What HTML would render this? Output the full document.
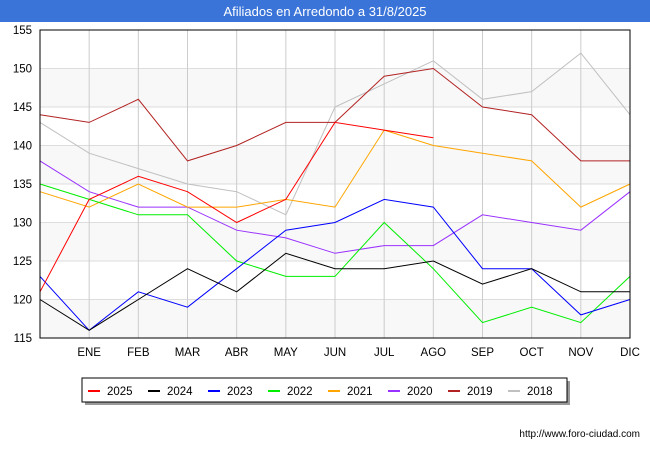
<!DOCTYPE html>
<html><head><meta charset="utf-8"><style>
body{margin:0;background:#fff;font-family:"Liberation Sans",sans-serif}
#wrap{position:relative;width:650px;height:450px;overflow:hidden}
</style></head><body>
<div id="wrap">
<svg id="svg" width="650" height="450" xmlns="http://www.w3.org/2000/svg">
<rect x="0" y="0" width="650" height="22" fill="#3a74d8"/>
<text x="325" y="16" text-anchor="middle" fill="#fff" font-size="13">Afiliados en Arredondo a 31/8/2025</text>
<g id="grid"></g><g id="series"></g><g id="axes"></g>
<rect x="85" y="381" width="485" height="24" fill="#999"/>
<rect x="82" y="378" width="485" height="24" fill="#fff" stroke="#000" stroke-width="1"/>
<g id="legend"></g>
<text x="640" y="437" text-anchor="end" font-size="10" fill="#000">http://www.foro-ciudad.com</text>
</svg></div>
<script>
const months=["","ENE","FEB","MAR","ABR","MAY","JUN","JUL","AGO","SEP","OCT","NOV","DIC"];
const yTicks=[115,120,125,130,135,140,145,150,155];
const years=["2025","2024","2023","2022","2021","2020","2019","2018"];
const colors=["#ff0000","#000000","#0000ff","#00ee00","#ffa500","#9a32ff","#b22222","#c0c0c0"];
const s2025=[121,133,136,134,130,133,143,142,141];
const s2024=[120,116,120,124,121,126,124,124,125,122,124,121,121];
const s2023=[123,116,121,119,124,129,130,133,132,124,124,118,120];
const s2022=[135,133,131,131,125,123,123,130,124,117,119,117,123];
const s2021=[134,132,135,132,132,133,132,142,140,139,138,132,135];
const s2020=[138,134,132,132,129,128,126,127,127,131,130,129,134];
const s2019=[144,143,146,138,140,143,143,149,150,145,144,138,138];
const s2018=[143,139,137,135,134,131,145,148,151,146,147,152,144];
const series=[s2025,s2024,s2023,s2022,s2021,s2020,s2019,s2018];
const X0=40,X1=630,Y0=30,Y1=338,NS="http://www.w3.org/2000/svg";
const xs=i=>X0+i*(X1-X0)/12;
const ys=v=>Y1-(v-115)*(Y1-Y0)/40;
function mk(t,a,p){const e=document.createElementNS(NS,t);for(const k in a)e.setAttribute(k,a[k]);p.appendChild(e);return e;}
const grid=document.getElementById('grid'),axes=document.getElementById('axes'),sg=document.getElementById('series'),lg=document.getElementById('legend');
for(let i=0;i<yTicks.length-1;i++){if(i%2==0){const r=mk('rect',{x:X0,y:ys(yTicks[i+1]),width:X1-X0,height:ys(yTicks[i])-ys(yTicks[i+1]),fill:'#f8f8f8'},grid);

}}
yTicks.forEach(v=>{const l=mk('line',{x1:X0,x2:X1,y1:ys(v),y2:ys(v),stroke:'#ddd'},grid);


const t=mk('text',{x:X0-8,y:ys(v)+4,'text-anchor':'end','font-size':'11.5',fill:'#000'},axes);t.textContent=v;

});
months.forEach((m,i)=>{if(i>0){const l=mk('line',{x1:xs(i),x2:xs(i),y1:Y0,y2:Y1,stroke:'#ccc'},grid);


const t=mk('text',{x:xs(i),y:356,'text-anchor':'middle','font-size':'11.5',fill:'#000'},axes);t.textContent=m;

}});
const fr=mk('rect',{x:X0,y:Y0,width:X1-X0,height:Y1-Y0,fill:'none',stroke:'#000'},axes);


for(let k=series.length-1;k>=0;k--){const pts=series[k].map((v,i)=>xs(i)+','+ys(v)).join(' ');
const p=mk('polyline',{points:pts,fill:'none',stroke:colors[k],'stroke-width':1},sg);

}
years.forEach((y,k)=>{const x=88+k*60;
const l=mk('line',{x1:x,x2:x+12,y1:391,y2:391,stroke:colors[k],'stroke-width':2},lg);


const t=mk('text',{x:x+19,y:395,'font-size':'11.5',fill:'#000'},lg);t.textContent=y;

});
</script></body></html>
